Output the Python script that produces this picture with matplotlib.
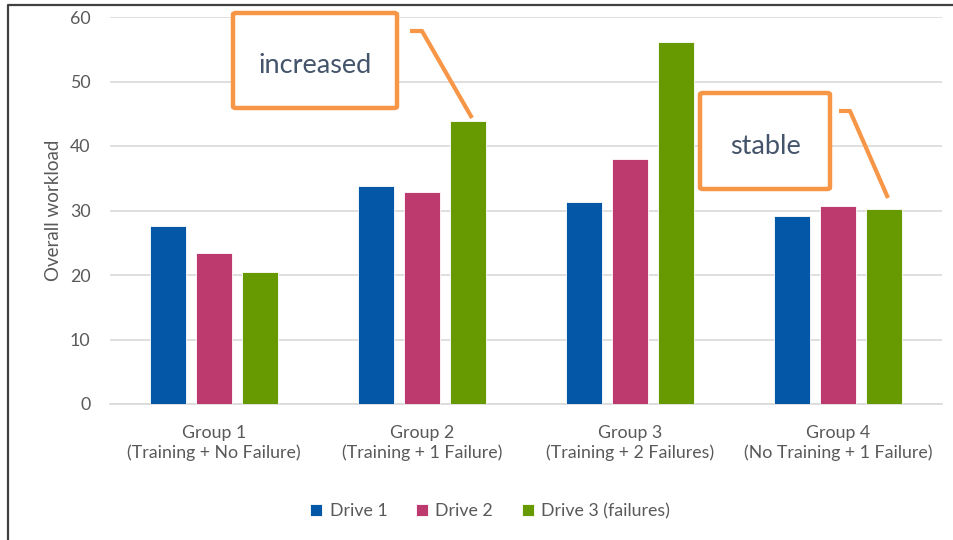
import numpy as np
import matplotlib
matplotlib.use('Agg')
import matplotlib.pyplot as plt
from matplotlib.patches import FancyBboxPatch
from matplotlib.lines import Line2D

plt.rcParams['font.family'] = ['Lato', 'DejaVu Sans']

groups = ['Group 1\n(Training + No Failure)',
          'Group 2\n(Training + 1 Failure)',
          'Group 3\n(Training + 2 Failures)',
          'Group 4\n(No Training + 1 Failure)']
drive1 = [27.6, 33.8, 31.3, 29.1]
drive2 = [23.4, 32.8, 38.0, 30.7]
drive3 = [20.5, 43.8, 56.1, 30.2]
series_labels = ['Drive 1', 'Drive 2', 'Drive 3 (failures)']
colors = ['#0457A6', '#BD3A6E', '#669A00']
yticks = [0, 10, 20, 30, 40, 50, 60]

W, H = 954, 540
fig = plt.figure(figsize=(W / 100, H / 100), dpi=100)
ax = fig.add_axes([110 / W, 1 - 404 / H, 832 / W, 387 / H])

x = np.arange(len(groups))
offset = 0.221
width = 0.173
for i, (vals, lab, col) in enumerate(zip([drive1, drive2, drive3], series_labels, colors)):
    ax.bar(x + (i - 1) * offset, vals, width, color=col, label=lab,
           edgecolor='white', linewidth=0.6, zorder=3)

ax.set_xlim(-0.5, len(groups) - 0.5)
ax.set_ylim(0, 60)
ax.set_yticks(yticks)
ax.set_xticks(x)
ax.set_xticklabels(groups, fontsize=12.8, color='#595959', linespacing=1.3)
ax.tick_params(axis='both', length=0, labelsize=12.8, labelcolor='#595959')
ax.tick_params(axis='x', pad=15)
ax.tick_params(axis='y', pad=14)
ax.grid(axis='y', color='#D9D9D9', linewidth=1.2, zorder=0)
for s in ['top', 'right', 'left']:
    ax.spines[s].set_visible(False)
ax.spines['bottom'].set_color('#D9D9D9')
ax.spines['bottom'].set_linewidth(1.2)
ax.set_ylabel('Overall workload', fontsize=13.5, color='#595959', labelpad=6)

leg = fig.legend(loc='center', bbox_to_anchor=(490 / W, 1 - 511 / H), ncol=3,
                 frameon=False, fontsize=12.8, handlelength=0.7, handleheight=0.7,
                 handletextpad=0.4, columnspacing=1.6)
for t in leg.get_texts():
    t.set_color('#595959')


def fx(px):
    return px / W


def fy(py):
    return 1 - py / H


# callout boxes with pointer lines
orange = '#F79646'
callouts = [
    ('increased', (233, 13, 397, 108), [(410, 31), (422, 31), (472, 118)]),
    ('stable', (700, 93, 830, 189), [(839, 111), (850, 111), (888, 198)]),
]
for text, (x0, y0, x1, y1), pts in callouts:
    box = FancyBboxPatch((fx(x0), fy(y1)), fx(x1 - x0), (y1 - y0) / H,
                         boxstyle='round,pad=0,rounding_size=0.003',
                         transform=fig.transFigure, facecolor='white',
                         edgecolor=orange, linewidth=3.2, zorder=5)
    fig.patches.append(box)
    fig.text(fx((x0 + x1) / 2), fy((y0 + y1) / 2 + 5), text, ha='center', va='center',
             fontsize=19.5, color='#44546A', zorder=6)
    xs = [fx(p[0]) for p in pts]
    ys = [fy(p[1]) for p in pts]
    fig.lines.append(Line2D(xs, ys, transform=fig.transFigure, color=orange,
                            linewidth=3, solid_capstyle='butt', zorder=5))

# slide frame
fig.lines.append(Line2D([fx(8), fx(8), 1], [0, fy(5), fy(5)], transform=fig.transFigure,
                        color='#404040', linewidth=1.6))

fig.savefig('out.png', dpi=100, facecolor='white')
